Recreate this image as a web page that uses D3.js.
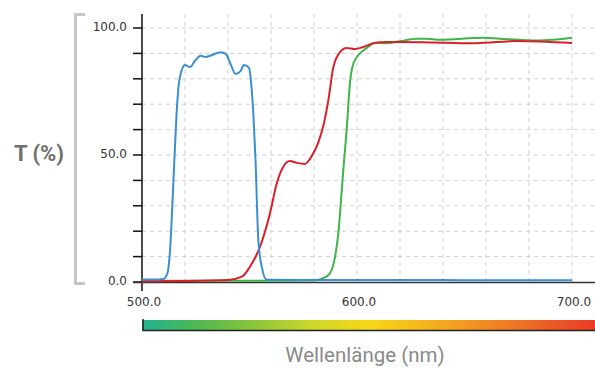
<!DOCTYPE html>
<html>
<head>
<meta charset="utf-8">
<script src="https://cdn.jsdelivr.net/npm/d3@7"></script>
<style>
  body { margin: 0; background: #fff; }
  svg { display: block; }
</style>
</head>
<body>
<div id="chart"></div>
<script>
// wavelength (nm) / transmission (%)
const blueNm = [500, 505, 510, 511, 512, 513, 514, 515, 516, 517, 518, 520, 522.3, 525, 527.3, 529.6, 532, 536.6, 539, 541.2, 543.5, 545.8, 547.4, 549.8, 550.8, 551.8, 552.8, 554.1, 555.7, 558, 580, 620, 660, 700];
const blueT = [1.0, 1.0, 1.2, 2, 4, 12, 28, 47, 65, 77, 82, 85.4, 84.6, 87.5, 89.1, 88.6, 89.2, 90.5, 89.8, 85.8, 81.9, 83, 85.4, 84.3, 78, 66, 48, 16.5, 6, 0.9, 0.8, 0.8, 0.7, 0.7];

const redNm = [500, 520, 540, 546.5, 550.2, 554.9, 559.5, 562.7, 565.7, 568.8, 572, 575.8, 578.9, 582, 584.5, 586.7, 589, 592.1, 595.2, 599, 602.9, 607.6, 613.8, 630, 655.7, 674, 700];
const redT = [0.3, 0.4, 0.8, 2.1, 6, 13.9, 27, 38.9, 45.4, 47.6, 46.9, 46.5, 49.5, 55, 62, 71.7, 84.6, 90.5, 92.1, 91.7, 92.5, 94, 94.5, 94.4, 94, 94.9, 94.1];

const greenNm = [500, 540, 580, 584.3, 587.4, 589.8, 591.3, 592.9, 594.1, 595.2, 596.7, 598.3, 601.4, 605.3, 608.4, 613.8, 620, 627.8, 632.4, 638.6, 658.7, 666.5, 685, 691.3, 700];
const greenT = [0.5, 0.5, 0.6, 1.5, 3.4, 10, 19, 36, 49, 60, 78.2, 86, 90, 92.6, 94.2, 94, 94.8, 95.8, 95.8, 95.4, 96.2, 95.8, 95.1, 95.4, 96.2];

const yTicks = [0, 10, 20, 30, 40, 50, 60, 70, 80, 90, 100];
const yLabels = [0, 50, 100];
const xTicks = [500, 520, 540, 560, 580, 600, 620, 640, 660, 680, 700];
const xLabels = [500, 600, 700];

const spectrum = ["#1fb38f", "#4fb84f", "#8cc53a", "#cdd72a", "#f7d817", "#f5b51e", "#f08d22", "#ec6426", "#e93b26"];

const W = 595, H = 369;
const x = d3.scaleLinear().domain([500, 700]).range([142, 572]);
const y = d3.scaleLinear().domain([0, 100]).range([282, 28]);

const svg = d3.select("#chart").append("svg")
    .attr("width", W)
    .attr("height", H);

// grid
svg.append("g").selectAll("line").data(yTicks.filter(d => d > 0)).join("line")
    .attr("x1", 142).attr("x2", W)
    .attr("y1", d => y(d)).attr("y2", d => y(d))
    .attr("stroke", "#cfcfcf").attr("stroke-dasharray", "4,4");
svg.append("g").selectAll("line").data(xTicks.filter(d => d > 500)).join("line")
    .attr("x1", d => x(d)).attr("x2", d => x(d))
    .attr("y1", 14).attr("y2", 282)
    .attr("stroke", "#cfcfcf").attr("stroke-dasharray", "4,4");

// y axis
svg.append("line")
    .attr("x1", 142).attr("x2", 142).attr("y1", 14).attr("y2", 291)
    .attr("stroke", "#111").attr("stroke-width", 1.5);
svg.append("g").selectAll("line").data(yTicks).join("line")
    .attr("x1", 133).attr("x2", 142)
    .attr("y1", d => y(d)).attr("y2", d => y(d))
    .attr("stroke", "#111").attr("stroke-width", 1.5);
svg.append("g").selectAll("text").data(yLabels).join("text")
    .attr("x", 127).attr("y", d => y(d) + 2.5)
    .attr("text-anchor", "end")
    .attr("font-family", "DejaVu Sans").attr("font-size", 12).attr("fill", "#333")
    .text(d => d3.format(".1f")(d));

// x axis
svg.append("line")
    .attr("x1", 133).attr("x2", W).attr("y1", 282.5).attr("y2", 282.5)
    .attr("stroke", "#333").attr("stroke-width", 1.5);
svg.append("g").selectAll("text").data(xLabels).join("text")
    .attr("x", d => x(d) + 2).attr("y", 306)
    .attr("text-anchor", "middle")
    .attr("font-family", "DejaVu Sans").attr("font-size", 12).attr("fill", "#333")
    .text(d => d3.format(".1f")(d));

// curves
const line = d3.line()
    .x(d => x(d[0]))
    .y(d => y(d[1]))
    .curve(d3.curveMonotoneX);

const series = [
    { nm: greenNm, t: greenT, color: "#3db54a" },
    { nm: redNm, t: redT, color: "#d8202a" },
    { nm: blueNm, t: blueT, color: "#3a8fd1" }
];
series.forEach(s => {
    svg.append("path")
        .datum(d3.zip(s.nm, s.t))
        .attr("d", line)
        .attr("fill", "none")
        .attr("stroke", s.color)
        .attr("stroke-width", 2);
});

// y title with bracket
svg.append("path")
    .attr("d", "M85,14.5H75.5V283.5H85")
    .attr("fill", "none").attr("stroke", "#c6c6c6").attr("stroke-width", 3);
svg.append("text")
    .attr("x", 39).attr("y", 161)
    .attr("text-anchor", "middle")
    .attr("font-family", "Roboto").attr("font-weight", "bold").attr("font-size", 22)
    .attr("fill", "#707070")
    .text("T (%)");

// spectrum bar
const grad = svg.append("defs").append("linearGradient").attr("id", "spec");
grad.selectAll("stop").data(spectrum).join("stop")
    .attr("offset", (d, i) => i / (spectrum.length - 1))
    .attr("stop-color", d => d);
svg.append("rect")
    .attr("x", 142).attr("y", 320).attr("width", W - 142).attr("height", 10)
    .attr("fill", "url(#spec)");
svg.append("path")
    .attr("d", `M143,319V330.5H${W}`)
    .attr("fill", "none").attr("stroke", "#222").attr("stroke-width", 1.5);

svg.append("text")
    .attr("x", 365).attr("y", 362)
    .attr("text-anchor", "middle")
    .attr("font-family", "Roboto").attr("font-size", 20.5)
    .attr("fill", "#8a8a8a")
    .text("Wellenlänge (nm)");
</script>
</body>
</html>
